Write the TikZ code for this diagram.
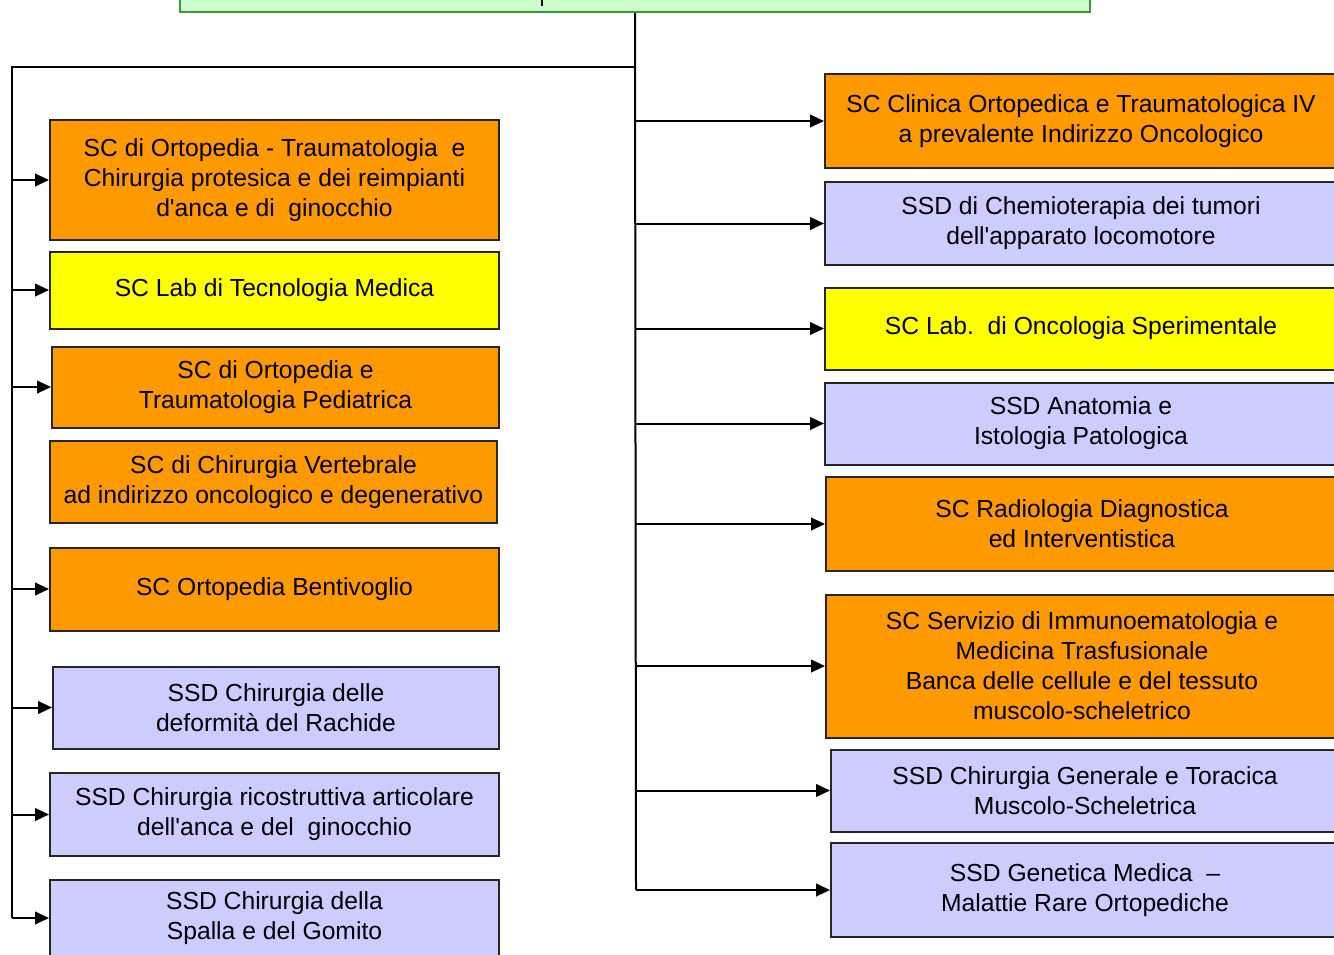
\documentclass[tikz,border=0pt]{standalone}
\usepackage{fontspec}
\setmainfont{Liberation Sans}
\usetikzlibrary{arrows.meta}

\definecolor{unitorange}{HTML}{FF9900}
\definecolor{unityellow}{HTML}{FFFF00}
\definecolor{unitblue}{HTML}{CCCCFF}
\definecolor{rootgreen}{HTML}{CCFFCC}
\definecolor{rootedge}{HTML}{3A9A3A}
\definecolor{edgegray}{HTML}{262626}

\newcommand{\apo}{\textquotesingle}

\tikzset{
  unit/.style={draw=edgegray, line width=1.5pt, rectangle, inner sep=0pt,
    align=center, font=\fontsize{18.5pt}{22.5pt}\selectfont},
  sc/.style={unit, fill=unitorange},
  lab/.style={unit, fill=unityellow},
  ssd/.style={unit, fill=unitblue},
  leftcol/.style={minimum width=336.75pt},
  rightcol/.style={minimum width=384pt},
  link/.style={draw=black, line width=1.5pt},
  feed/.style={link, -{Triangle[length=10.5pt,width=9.5pt]}},
}

\begin{document}
\begin{tikzpicture}[x=0.75pt,y=-0.75pt]
\useasboundingbox (0,0) rectangle (1334,954);
\clip (0,0) rectangle (1334,954);

% department header box
\node[draw=rootedge, fill=rootgreen, line width=1.5pt, inner sep=0pt,
      minimum width=682.5pt, minimum height=45pt] (root) at (635,-18) {};
\fill (540.5,0) rectangle (543,5.5);

% trunk and left branch
\coordinate (spine) at (636,890);
\coordinate (fork) at (636,67);
\coordinate (lspine) at (12,67);
\coordinate (lend) at (12,918);

% left column
\node[sc,  leftcol, minimum height=90pt]    (L1) at (274.5,180)
  {SC di Ortopedia - Traumatologia\ \ e\\Chirurgia protesica e dei reimpianti\\d\apo anca e di\ \ ginocchio};
\node[lab, leftcol, minimum height=57.75pt] (L2) at (274.5,290)
  {SC Lab di Tecnologia Medica};
\node[sc,  leftcol, minimum height=60.75pt, minimum width=335.25pt] (L3) at (275.5,387)
  {SC di Ortopedia e\\Traumatologia Pediatrica};
\node[sc,  leftcol, minimum height=61.5pt, minimum width=335.25pt]  (L4) at (273.5,482)
  {SC di Chirurgia Vertebrale\\ad indirizzo oncologico e degenerativo};
\node[sc,  leftcol, minimum height=62.25pt] (L5) at (274.5,589)
  {SC Ortopedia Bentivoglio};
\node[ssd, leftcol, minimum height=61.5pt, minimum width=334.5pt]   (L6) at (276,707.5)
  {SSD Chirurgia delle\\deformità del Rachide};
\node[ssd, leftcol, minimum height=62.25pt] (L7) at (274.5,814.5)
  {SSD Chirurgia ricostruttiva articolare\\dell\apo anca e del\ \ ginocchio};
\node[ssd, leftcol, minimum height=57pt]    (L8) at (274.5,918)
  {SSD Chirurgia della\\Spalla e del Gomito};

% right column
\node[sc,  rightcol, minimum height=70.5pt]  (R1) at (1081,121)
  {SC Clinica Ortopedica e Traumatologica IV\\a prevalente Indirizzo Oncologico};
\node[ssd, rightcol, minimum height=62.25pt] (R2) at (1081,223.5)
  {SSD di Chemioterapia dei tumori\\dell\apo apparato locomotore};
\node[lab, rightcol, minimum height=61.5pt]  (R3) at (1081,328.5)
  {SC Lab.\ \ di Oncologia Sperimentale};
\node[ssd, rightcol, minimum height=61.5pt]  (R4) at (1081,423.5)
  {SSD Anatomia e\\Istologia Patologica};
\node[sc,  rightcol, minimum height=70.5pt]  (R5) at (1082,524)
  {SC Radiologia Diagnostica\\ed Interventistica};
\node[sc,  rightcol, minimum height=107.25pt] (R6) at (1082,666)
  {SC Servizio di Immunoematologia e\\Medicina Trasfusionale\\Banca delle cellule e del tessuto\\muscolo-scheletrico};
\node[ssd, rightcol, minimum height=61.5pt, minimum width=381pt] (R7) at (1085,790.5)
  {SSD Chirurgia Generale e Toracica\\Muscolo-Scheletrica};
\node[ssd, rightcol, minimum height=70.5pt, minimum width=381pt] (R8) at (1085,890)
  {SSD Genetica Medica\ \ --\\Malattie Rare Ortopediche};

% connectors
\draw[link] (root.south) -- (spine);
\draw[link] (fork) -- (lspine) -- (lend);

\foreach \n in {R1,R2,R3,R4,R5,R6,R7,R8}
  \draw[feed] (\n.west -| spine) -- (\n.west);
\foreach \n in {L1,L2,L3,L5,L6,L7,L8}
  \draw[feed] (\n.west -| lspine) -- (\n.west);
\end{tikzpicture}
\end{document}
